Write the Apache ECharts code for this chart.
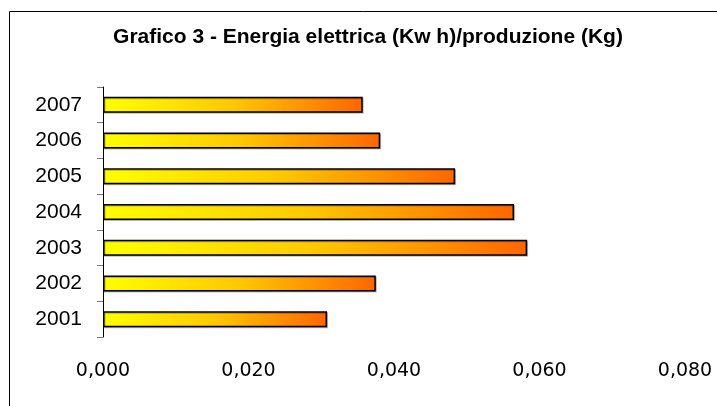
<!DOCTYPE html>
<html>
<head>
<meta charset="utf-8">
<script src="https://cdn.jsdelivr.net/npm/echarts@6/dist/echarts.min.js"></script>
<style>
  html, body { margin: 0; padding: 0; background: #fff; }
  #chart { width: 717px; height: 406px; }
</style>
</head>
<body>
<div id="chart"></div>
<script>
var years = ['2001', '2002', '2003', '2004', '2005', '2006', '2007']
var ratios = [0.0308, 0.0375, 0.0583, 0.0565, 0.0484, 0.0381, 0.0357]
var xTicks = { min: 0, max: 0.08, interval: 0.02 }

var mychart = echarts.init(document.getElementById('chart'))

var option = {
  animation: false,
  backgroundColor: '#fff',
  title: {
    text: 'Grafico 3 - Energia elettrica (Kw h)/produzione (Kg)',
    left: 368,
    textAlign: 'center',
    top: 27,
    padding: 0,
    textStyle: {
      fontFamily: 'Liberation Sans',
      fontSize: 21,
      fontWeight: 'bold',
      color: '#000'
    }
  },
  graphic: [
    {
      type: 'rect',
      shape: { x: 9.5, y: 11.5, width: 760, height: 460 },
      style: { fill: 'none', stroke: '#000', lineWidth: 1 },
      silent: true
    }
  ],
  grid: {
    left: 103,
    right: 32,
    top: 87,
    bottom: 69,
    containLabel: false
  },
  xAxis: {
    type: 'value',
    min: xTicks.min,
    max: xTicks.max,
    interval: xTicks.interval,
    axisLine: { show: false },
    axisTick: { show: false },
    splitLine: { show: false },
    axisLabel: {
      margin: 25,
      fontFamily: 'DejaVu Sans',
      fontSize: 19,
      color: '#000',
      formatter: function(v) {
        return v.toFixed(3).replace('.', ',')
      }
    }
  },
  yAxis: {
    type: 'category',
    data: years,
    axisLine: { show: true, lineStyle: { color: '#000', width: 1 } },
    axisTick: { show: true, length: 6, lineStyle: { color: '#777' } },
    splitLine: { show: false },
    axisLabel: {
      margin: 21,
      fontFamily: 'Liberation Sans',
      fontSize: 21,
      color: '#000'
    }
  },
  series: [
    {
      type: 'bar',
      data: ratios,
      barWidth: 16,
      itemStyle: {
        color: new echarts.graphic.LinearGradient(0, 0, 1, 0, [
          { offset: 0, color: '#FFFF00' },
          { offset: 0.5, color: '#FFC800' },
          { offset: 1, color: '#FF6600' }
        ]),
        borderColor: '#000',
        borderWidth: 1.5,
        shadowColor: 'rgba(0,0,0,0.25)',
        shadowOffsetX: 1,
        shadowOffsetY: 1
      }
    }
  ]
}

mychart.setOption(option)
</script>
</body>
</html>
